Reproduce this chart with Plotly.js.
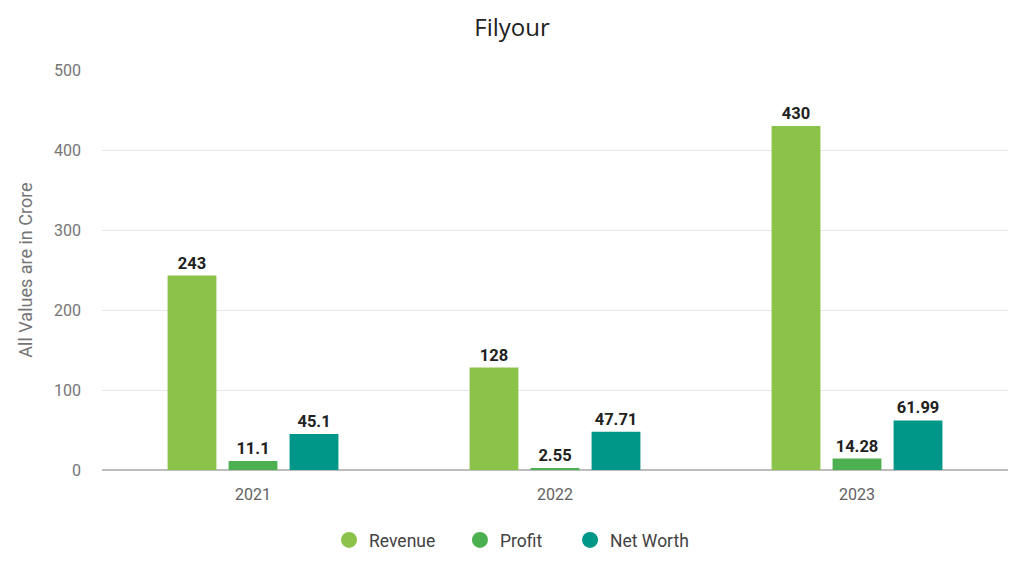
<!DOCTYPE html>
<html>
<head>
<meta charset="utf-8">
<script src="https://cdn.plot.ly/plotly-3.0.1.min.js"></script>
<style>
  html, body { margin: 0; padding: 0; background: #fff; }
  #plot { width: 1024px; height: 582px; }
</style>
</head>
<body>
<div id="plot"></div>
<script>
var years = ['2021', '2022', '2023'];
var revenue = [243, 128, 430];
var profit = [11.1, 2.55, 14.28];
var netWorth = [45.1, 47.71, 61.99];

var names = ['Revenue', 'Profit', 'Net Worth'];
var colors = ['#8BC34A', '#4CAF50', '#009688'];
var series = [revenue, profit, netWorth];
var legendIds = ['legend', 'legend2', 'legend3'];

var data = [];
series.forEach(function (vals, i) {
  data.push({
    x: years,
    y: vals,
    name: names[i],
    type: 'bar',
    marker: {color: colors[i]},
    text: vals.map(String),
    textposition: 'outside',
    cliponaxis: false,
    textfont: {family: 'Roboto', size: 16.5, color: '#212121', weight: 'bold'},
    showlegend: false,
    hoverinfo: 'x+y'
  });
});
// legend entries with round markers
series.forEach(function (vals, i) {
  data.push({
    x: [null],
    y: [null],
    name: names[i],
    type: 'scatter',
    mode: 'markers',
    marker: {color: colors[i], size: 18, symbol: 'circle'},
    showlegend: true,
    legend: legendIds[i]
  });
});

function leg(x) {
  return {
    orientation: 'h',
    x: x, xanchor: 'left',
    y: -0.175, yanchor: 'middle',
    font: {family: 'Roboto', size: 17.5, color: '#424242'},
    bgcolor: 'rgba(0,0,0,0)'
  };
}

var layout = {
  title: {text: 'Filyour', x: 0.5, xanchor: 'center', y: 0.952, yanchor: 'middle',
          font: {family: 'Open Sans', size: 24, color: '#212121'}},
  font: {family: 'Roboto', color: '#757575'},
  barmode: 'group',
  bargap: 0.394,
  bargroupgap: 0.2,
  margin: {l: 102, r: 16, t: 70, b: 112},
  paper_bgcolor: '#fff',
  plot_bgcolor: '#fff',
  xaxis: {
    type: 'category',
    tickfont: {size: 16, color: '#616161'},
    showgrid: false,
    showline: false,
    ticks: '',
    ticklabelstandoff: 13
  },
  yaxis: {
    title: {text: 'All Values are in Crore', font: {size: 18, color: '#757575'}, standoff: 16},
    range: [0, 500],
    dtick: 100,
    tickfont: {size: 16, color: '#757575'},
    gridcolor: '#e6e6e6',
    zeroline: true,
    zerolinecolor: '#bdbdbd',
    zerolinewidth: 1.5,
    ticks: '',
    ticklabelstandoff: 20
  },
  legend: leg(0.2506),
  legend2: leg(0.3951),
  legend3: leg(0.5166),
  showlegend: true
};

Plotly.newPlot('plot', data, layout, {displayModeBar: false});
</script>
</body>
</html>
